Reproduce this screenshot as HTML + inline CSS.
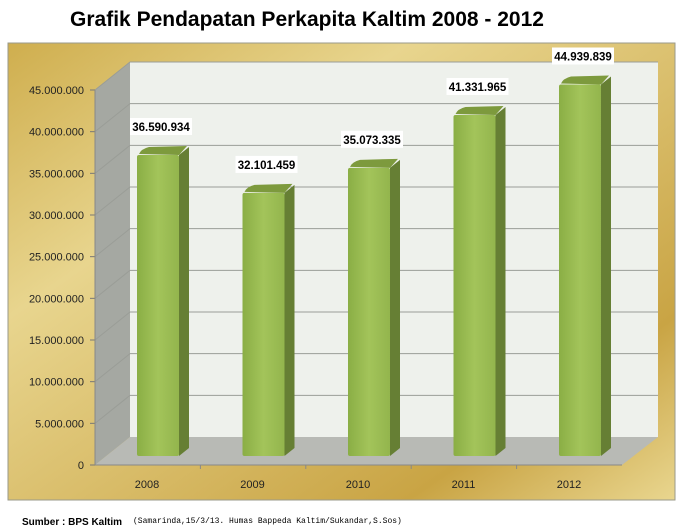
<!DOCTYPE html>
<html><head><meta charset="utf-8"><style>
body{margin:0;background:#fff;width:689px;height:531px;overflow:hidden}
svg{display:block;font-family:"Liberation Sans",sans-serif}
</style></head><body>
<svg id="c" width="689" height="531" xmlns="http://www.w3.org/2000/svg">
<defs>
<linearGradient id="gold" x1="0" y1="0" x2="1" y2="1">
<stop offset="0" stop-color="#cfae4e"/><stop offset="0.3" stop-color="#e8d58e"/><stop offset="0.55" stop-color="#d9bd6a"/><stop offset="0.8" stop-color="#c9a444"/><stop offset="1" stop-color="#e9d68f"/></linearGradient>
<linearGradient id="barF" x1="0" y1="0" x2="1" y2="0">
<stop offset="0" stop-color="#8aae45"/><stop offset="0.5" stop-color="#a3c45a"/><stop offset="1" stop-color="#93b54d"/></linearGradient>
</defs>
<text x="307" y="26" text-anchor="middle" font-size="21" font-weight="bold" fill="#000">Grafik Pendapatan Perkapita Kaltim 2008 - 2012</text>
<rect x="8" y="43" width="667" height="457" fill="url(#gold)" stroke="#9a9a8a"/>
<polygon points="130,62 658,62 658,437 130,437" fill="#eef1ec"/>
<polygon points="95,90 130,62 130,437 95,465" fill="#a5a8a2"/>
<polygon points="95,465 130,437 658,437 622,465" fill="#b8bab5"/>
<g id="grid"></g><g id="bars"></g><g id="axes"></g>
<text x="22" y="525" font-size="10" font-weight="bold">Sumber : BPS Kaltim</text>
<text x="133" y="523" font-size="8" font-family="Liberation Mono,monospace">(Samarinda,15/3/13. Humas Bappeda Kaltim/Sukandar,S.Sos)</text>
</svg>
<script>
const categories=["2008","2009","2010","2011","2012"];
const values=[36590934,32101459,35073335,41331965,44939839];
const valueLabels=["36.590.934","32.101.459","35.073.335","41.331.965","44.939.839"];
const ticks=[0,5000000,10000000,15000000,20000000,25000000,30000000,35000000,40000000,45000000];
const tickLabels=["0","5.000.000","10.000.000","15.000.000","20.000.000","25.000.000","30.000.000","35.000.000","40.000.000","45.000.000"];
const NS="http://www.w3.org/2000/svg";
const MAX=45000000;
const yFront=v=>465-v/MAX*375;
const yBar=v=>456-v/MAX*380;
const xBar=i=>137+i*105.5;
function mk(t,a,p){const e=document.createElementNS(NS,t);for(const k in a)e.setAttribute(k,a[k]);p.appendChild(e);return e;}
const g=document.getElementById('grid'),b=document.getElementById('bars'),ax=document.getElementById('axes');
ticks.forEach((t,i)=>{const y=yFront(t);
 if(i>0){const l=mk('polyline',{points:`95,${y} 130,${y-28} 658,${y-28}`,fill:'none',stroke:'#9a9d97','stroke-width':1},g);
 
 }
 mk('line',{x1:90,y1:y,x2:95,y2:y,stroke:'#777'},ax);
 const tx=mk('text',{x:84,y:y+4,'text-anchor':'end','font-size':11,fill:'#222'},ax);tx.textContent=tickLabels[i];
 
 
});
mk('line',{x1:95,y1:90,x2:95,y2:465,stroke:'#888'},ax);
mk('line',{x1:95,y1:465,x2:622,y2:465,stroke:'#888'},ax);
categories.forEach((c,i)=>{
 const x=xBar(i),y=yBar(values[i]),w=42,d=10,h=8;
 const grp=mk('g',{},b);
 
 
 mk('path',{d:`M${x+w},${y+h} L${x+w+d},${y} L${x+w+d},${456-8} L${x+w},456 Z`,fill:'#667f34'},grp);
 mk('path',{d:`M${x+2},${y+h-1} Q${x+4},${y+2} ${x+12},${y} L${x+w+d-2},${y-1} L${x+w},${y+h} Z`,fill:'#7d9a3d'},grp);
 mk('rect',{x:x,y:y+h,width:w,height:456-y-h,fill:'url(#barF)',rx:2},grp);
 const lw=62,lx=x+w/2-lw/2+3,ly=y-29;
 mk('rect',{x:lx,y:ly,width:lw,height:17,fill:'#fff'},grp);
 const vt=mk('text',{x:lx+lw/2,y:ly+13,'text-anchor':'middle','font-size':11.5,'font-weight':'bold',fill:'#000'},grp);vt.textContent=valueLabels[i];
 
 
 const xt=mk('text',{x:x+10,y:488,'text-anchor':'middle','font-size':11,fill:'#222'},ax);xt.textContent=c;
 
 
 if(i>0)mk('line',{x1:95+i*105.4,y1:465,x2:95+i*105.4,y2:469,stroke:'#888'},ax);
});
</script>
</body></html>
